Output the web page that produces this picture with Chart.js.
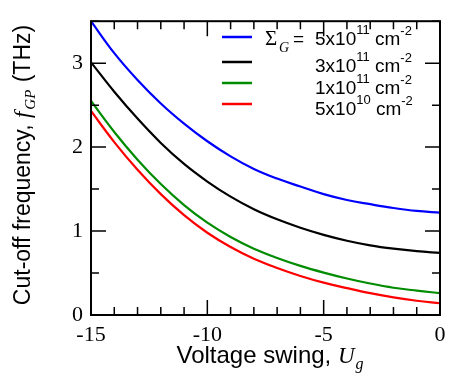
<!DOCTYPE html>
<html><head><meta charset="utf-8">
<script src="https://cdn.jsdelivr.net/npm/chart.js@4.4.0/dist/chart.umd.min.js"></script>
<style>html,body{margin:0;padding:0;background:#fff;}#wrap{width:454px;height:381px;}</style>
</head><body><div id="wrap"><canvas id="c" width="454" height="381"></canvas></div>
<script>
// ---- data ----
const ugValues   = [-15,-14,-13,-12,-11,-10,-9,-8,-7,-6,-5,-4,-3,-2,-1,0];
const sigma5e11  = [3.50,3.12,2.80,2.52,2.28,2.07,1.89,1.74,1.625,1.53,1.44,1.37,1.32,1.275,1.24,1.22];
const sigma3e11  = [3.01,2.66,2.34,2.05,1.80,1.59,1.41,1.26,1.14,1.04,0.955,0.885,0.83,0.79,0.76,0.74];
const sigma1e11  = [2.55,2.18,1.85,1.56,1.31,1.10,0.93,0.79,0.68,0.585,0.505,0.435,0.375,0.325,0.29,0.26];
const sigma5e10  = [2.43,2.06,1.73,1.44,1.19,0.98,0.81,0.67,0.56,0.465,0.385,0.32,0.26,0.21,0.17,0.14];
const seriesMant = ['5x10','3x10','1x10','5x10'];
const seriesExp  = ['11','11','11','10'];
const seriesColors = ['#0000ff','#000000','#008c00','#ff0000'];
const xTickValues = [-15,-10,-5,0];
const yTickValues = [0,1,2,3];
const xTitle = 'Voltage swing, ';
const yTitle = 'Cut-off frequency, ';

const seriesValues = [sigma5e11, sigma3e11, sigma1e11, sigma5e10];
const datasets = seriesValues.map((vals,i)=>({
  data: ugValues.map((u,k)=>({x:u,y:vals[k]})),
  borderColor: seriesColors[i], borderWidth: 2.2, pointRadius: 0,
  fill:false, tension:0.4
}));

const PL = 91, PB = 66;
const overlay = {
  id:'overlay',
  afterDraw(chart){
    const ctx = chart.ctx, a = chart.chartArea, xs = chart.scales.x, ys = chart.scales.y;
    ctx.save();
    ctx.strokeStyle = '#000'; ctx.lineWidth = 2;
    ctx.strokeRect(a.left, a.top, a.right-a.left, a.bottom-a.top);
    ctx.lineWidth = 1.5;
    ctx.beginPath();
    for (let v=-15; v<=0; v++){
      const x = xs.getPixelForValue(v);
      const L = (v%5===0)?15:8;
      ctx.moveTo(x,a.bottom); ctx.lineTo(x,a.bottom-L);
      ctx.moveTo(x,a.top); ctx.lineTo(x,a.top+L);
    }
    for (let k=0; k<=7; k++){
      const v = k*0.5, y = ys.getPixelForValue(v);
      const L = (k%2===0)?15:8;
      ctx.moveTo(a.left,y); ctx.lineTo(a.left+L,y);
      ctx.moveTo(a.right,y); ctx.lineTo(a.right-L,y);
    }
    ctx.stroke();

    // x title
    ctx.fillStyle = '#000'; ctx.textBaseline = 'alphabetic'; ctx.textAlign = 'left';
    const f1 = '24px "Liberation Sans", Arial, sans-serif';
    const fU = 'italic 23px "Liberation Serif", serif';
    const fg = 'italic 16px "Liberation Serif", serif';
    ctx.font = f1; const w1 = ctx.measureText(xTitle).width;
    ctx.font = fU; const w2 = ctx.measureText('U').width;
    ctx.font = fg; const w3 = ctx.measureText('g').width;
    let x0 = (a.left+a.right)/2 - (w1+w2+w3)/2 + 4, yb = 363;
    ctx.font = f1; ctx.fillText(xTitle, x0, yb);
    ctx.font = fU; ctx.fillText('U', x0+w1, yb);
    ctx.font = fg; ctx.fillText('g', x0+w1+w2+1, yb+6);

    // y title (rotated)
    ctx.save();
    ctx.translate(30, 165); ctx.rotate(-Math.PI/2);
    const fy = '23px "Liberation Sans", Arial, sans-serif';
    const ff = 'italic 23px "Liberation Serif", serif';
    const fs = 'italic 15px "Liberation Serif", serif';
    const tail = ' (THz)';
    ctx.font = fy; const a1 = ctx.measureText(yTitle).width, a4 = ctx.measureText(tail).width;
    ctx.font = ff; const a2 = ctx.measureText('f').width;
    ctx.font = fs; const a3 = ctx.measureText('GP').width;
    let s = -(a1+a2+a3+a4+3)/2;
    ctx.font = fy; ctx.fillText(yTitle, s, 0);
    ctx.font = ff; ctx.fillText('f', s+a1, 0);
    ctx.font = fs; ctx.fillText('GP', s+a1+a2+2, 5);
    ctx.font = fy; ctx.fillText(tail, s+a1+a2+a3+3, 0);
    ctx.restore();

    // legend
    const lineY = [37,62,83,104], baseY = [45,72,94,115];
    for (let i=0;i<4;i++){
      ctx.strokeStyle = seriesColors[i]; ctx.lineWidth = 2.5;
      ctx.beginPath(); ctx.moveTo(222,lineY[i]); ctx.lineTo(252,lineY[i]); ctx.stroke();
      const fm = '19px "Liberation Sans", Arial, sans-serif';
      const fe = '13px "Liberation Sans", Arial, sans-serif';
      let x = 315;
      ctx.font = fm; ctx.fillText(seriesMant[i], x, baseY[i]); x += ctx.measureText(seriesMant[i]).width;
      ctx.font = fe; ctx.fillText(seriesExp[i], x, baseY[i]-11); x += ctx.measureText(seriesExp[i]).width;
      ctx.font = fm; ctx.fillText(' cm', x, baseY[i]); x += ctx.measureText(' cm').width;
      ctx.font = fe; ctx.fillText('-2', x, baseY[i]-10);
    }
    ctx.font = '21px "Liberation Serif", serif'; ctx.fillText('\u03A3', 265, 45);
    ctx.font = 'italic 14px "Liberation Serif", serif'; ctx.fillText('G', 279, 52);
    ctx.font = '19px "Liberation Sans", Arial, sans-serif'; ctx.fillText('=', 293, 45);
    ctx.restore();
  }
};

new Chart(document.getElementById('c'), {
  type:'line',
  data:{datasets},
  options:{
    responsive:false, animation:false, devicePixelRatio:1,
    layout:{padding:{left:0,right:14,top:4,bottom:0}},
    plugins:{legend:{display:false}, tooltip:{enabled:false}},
    scales:{
      x:{type:'linear', min:-15, max:0,
        afterFit(s){ s.height = PB; },
        afterBuildTicks(s){ s.ticks = xTickValues.map(v=>({value:v})); },
        grid:{display:false, drawTicks:false}, border:{display:false},
        ticks:{font:{family:'"Liberation Serif", serif', size:22}, color:'#000', padding:7, maxRotation:0}},
      y:{type:'linear', min:0, max:3.5,
        afterFit(s){ s.width = PL; },
        afterBuildTicks(s){ s.ticks = yTickValues.map(v=>({value:v})); },
        grid:{display:false, drawTicks:false}, border:{display:false},
        ticks:{font:{family:'"Liberation Serif", serif', size:22}, color:'#000', padding:8}}
    }
  },
  plugins:[overlay]
});
</script></body></html>
